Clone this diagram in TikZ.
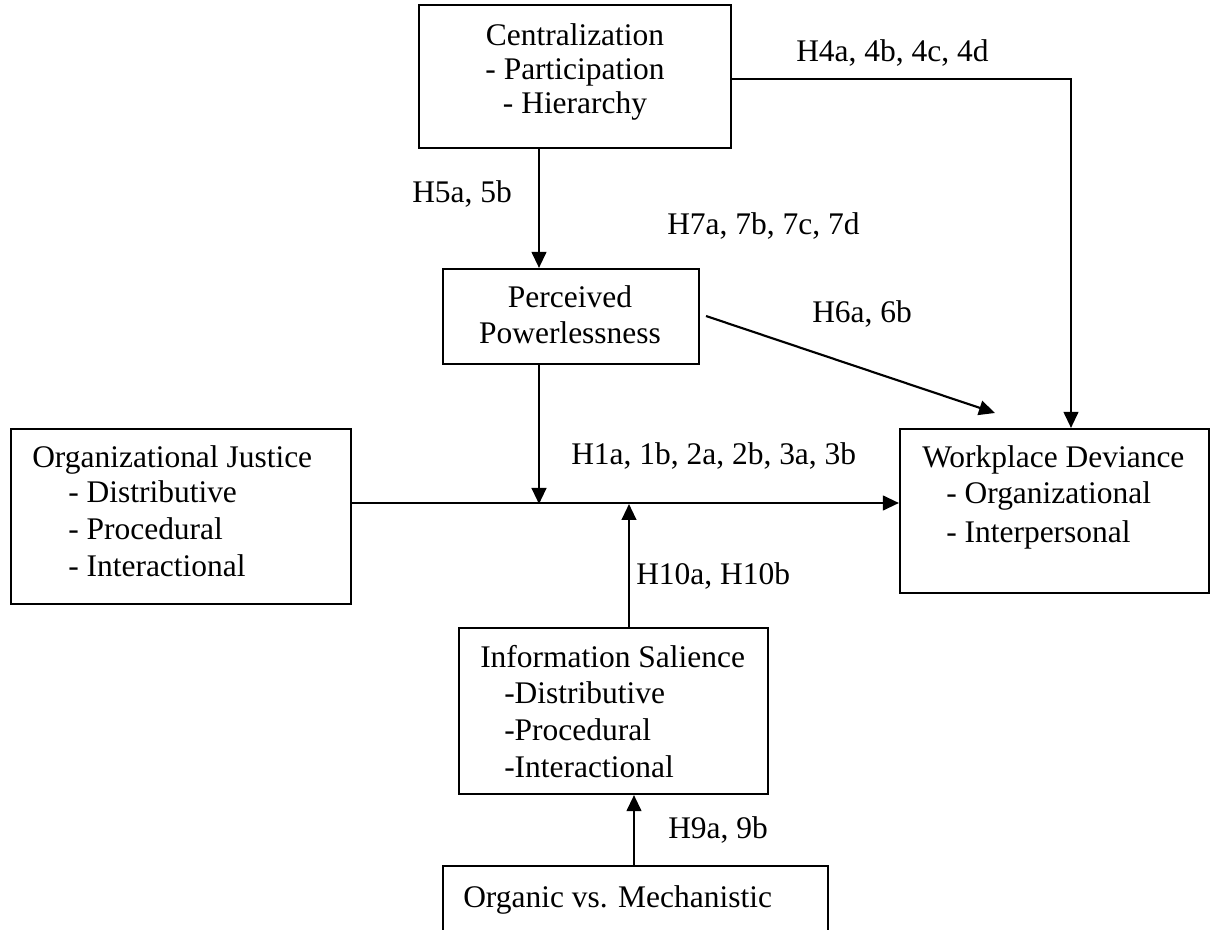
\documentclass[tikz,border=0pt]{standalone}
\usepackage{fontspec}
\setmainfont{Liberation Serif}
\usetikzlibrary{arrows.meta,fit}
\begin{document}
\begin{tikzpicture}[x=0.75pt,y=-0.75pt,
  box/.style={draw,line width=1.6pt,inner sep=0pt},
  txt/.style={inner sep=0pt,font=\fontsize{23.6pt}{27.4pt}\selectfont},
  txtc/.style={txt,align=center,font=\fontsize{23.6pt}{25.8pt}\selectfont},
  txtl/.style={txt,align=left},
  lbl/.style={inner sep=0pt,anchor=base west,font=\fontsize{23.6pt}{27pt}\selectfont},
  arr/.style={line width=1.6pt,-{Triangle[length=12pt,width=11pt]}}]
\useasboundingbox (0,0) rectangle (1211,930);
\clip (0,0) rectangle (1211,930);
% boxes
\node[box,fit={(419,5) (731,148)}] (cen) {};
\node[box,fit={(443,269) (699,364)}] (per) {};
\node[box,fit={(11,429) (351,604)}] (oj) {};
\node[box,fit={(900,429) (1209,593)}] (wd) {};
\node[box,fit={(459,628) (768,794)}] (is) {};
\node[box,fit={(443,866) (828,960)}] (om) {};
% box texts (anchored at the baseline of the last line)
\node[txtc,anchor=base] (cent) at (575,114) {Centralization\\- Participation\\- Hierarchy};
\node[txtc,anchor=base,font=\fontsize{23.6pt}{27.6pt}\selectfont] (pert) at (570,344) {Perceived\\Powerlessness};
\node[txtl,anchor=base west] (ojt) at (32,468) {Organizational Justice};
\node[txtl,anchor=base west] (ojs) at (68,576) {- Distributive\\- Procedural\\- Interactional};
\node[txtl,anchor=base west] (wdt) at (922,468) {Workplace Deviance};
\node[txtl,anchor=base west,font=\fontsize{23.6pt}{28.5pt}\selectfont] (wds) at (946,542) {- Organizational\\- Interpersonal};
\node[txtl,anchor=base west] (ist) at (480,667) {Information Salience};
\node[txtl,anchor=base west] (iss) at (504,777) {-Distributive\\-Procedural\\-Interactional};
\node[txtl,anchor=base west] (omt) at (463,907) {Organic vs. Mechanistic};
% labels
\node[lbl] (h4) at (796,62) {H4a, 4b, 4c, 4d};
\node[lbl] (h5) at (412,203) {H5a, 5b};
\node[lbl] (h7) at (667,235) {H7a, 7b, 7c, 7d};
\node[lbl] (h6) at (812,323) {H6a, 6b};
\node[lbl] (h1) at (571,465) {H1a, 1b, 2a, 2b, 3a, 3b};
\node[lbl] (h10) at (636,585) {H10a, H10b};
\node[lbl] (h9) at (668,838) {H9a, 9b};
% coordinates
\coordinate (k4) at (1071,79);
\coordinate (k5) at (539,0);
\coordinate (j1) at (539,504);
\coordinate (j2) at (629,504);
\coordinate (k9) at (634,0);
\coordinate (p6) at (706,316);
\coordinate (t6) at (995,413);
% connectors
\draw[arr] (cen.east |- k4) -| (wd.north -| k4);
\draw[arr] (cen.south -| k5) -- (per.north -| k5);
\draw[arr] (per.south -| k5) -- (j1);
\draw[arr] (oj.east |- 0,503) -- (wd.west |- 0,503);
\draw[arr] (is.north -| j2) -- (j2);
\draw[arr] (om.north -| k9) -- (is.south -| k9);
\draw[arr] (p6) -- (t6);
\end{tikzpicture}
\end{document}
